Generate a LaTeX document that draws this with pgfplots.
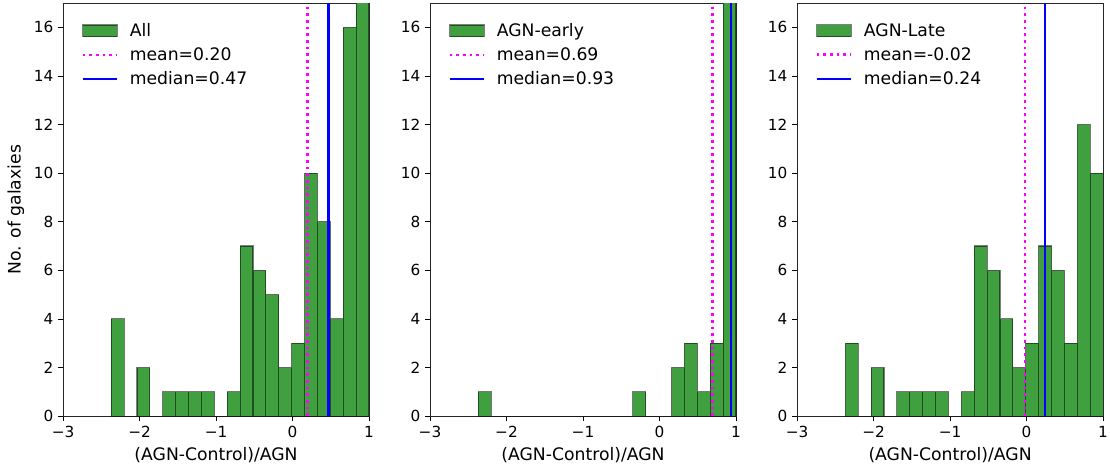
\documentclass[border=0pt]{standalone}
\usepackage{fontspec}
\setmainfont{DejaVu Sans}
\usepackage{pgfplots}
\pgfplotsset{compat=1.18}
\definecolor{barg}{HTML}{40A040}
\definecolor{mag}{HTML}{FF00FF}
\definecolor{blu}{HTML}{0000FF}

\pgfplotsset{
 panel/.style={
  scale only axis, width=220.3pt, height=297.4pt,
  xmin=-3, xmax=1, ymin=0, ymax=17,
  xtick={-3,-2,-1,0,1}, xticklabels={−3,−2,−1,0,1},
  ytick={0,2,...,16},
  tick align=outside, tick pos=left,
  major tick length=3.5pt,
  axis line style={line width=0.6pt, black!85},
  every tick/.style={black, line width=0.6pt},
  tick label style={font=\fontsize{11}{13}\selectfont},
  label style={font=\fontsize{12.4}{14}\selectfont},
  xlabel={(AGN-Control)/AGN},
  /pgf/number format/assume math mode=true,
  legend style={draw=none, fill=none, at={(0.045,0.965)}, anchor=north west,
     font=\fontsize{12.4}{14}\selectfont, row sep=2.5pt,
     /tikz/every odd column/.append style={column sep=6pt}},
  legend cell align=left,
  legend image code/.code={\draw[#1] (0pt,0pt) -- (25pt,0pt);},
 },
 bars/.style={ybar interval, fill=barg, draw=black, draw opacity=0.5, line width=0.8pt,
   legend image code/.code={\draw[fill=barg,draw=black,draw opacity=0.5,line width=0.8pt] (0pt,-4.3pt) rectangle (25pt,4.3pt);}},
 meanline/.style={mag, line width=2pt, dash pattern=on 2pt off 2.8pt},
 medline/.style={blu, line width=1.5pt},
}

\pgfplotstableread{
x y
-2.3700 4
-2.2015 0
-2.0330 2
-1.8645 0
-1.6960 1
-1.5275 1
-1.3590 1
-1.1905 1
-1.0220 0
-0.8535 1
-0.6850 7
-0.5165 6
-0.3480 5
-0.1795 2
-0.0110 3
0.1575 10
0.3260 8
0.4945 4
0.6630 16
0.8315 34
1.0000 0
}\allt

\pgfplotstableread{
x y
-2.3700 1
-2.2015 0
-2.0330 0
-1.8645 0
-1.6960 0
-1.5275 0
-1.3590 0
-1.1905 0
-1.0220 0
-0.8535 0
-0.6850 0
-0.5165 0
-0.3480 1
-0.1795 0
-0.0110 0
0.1575 2
0.3260 3
0.4945 1
0.6630 3
0.8315 24
1.0000 0
}\earlyt

\pgfplotstableread{
x y
-2.3700 3
-2.2015 0
-2.0330 2
-1.8645 0
-1.6960 1
-1.5275 1
-1.3590 1
-1.1905 1
-1.0220 0
-0.8535 1
-0.6850 7
-0.5165 6
-0.3480 4
-0.1795 2
-0.0110 3
0.1575 7
0.3260 6
0.4945 3
0.6630 12
0.8315 10
1.0000 0
}\latet

\begin{document}
\begin{tikzpicture}
\begin{axis}[panel, at={(0pt,0pt)}, ylabel={No. of galaxies}]
\addplot[bars] table[x=x,y=y] {\allt};
\addlegendentry{All}
\addplot[meanline] coordinates {(0.20,0) (0.20,17)};
\addlegendentry{mean=0.20}
\addplot[medline] coordinates {(0.47,0) (0.47,17)};
\addlegendentry{median=0.47}
\end{axis}
\begin{axis}[panel, at={(264.2pt,0pt)}]
\addplot[bars] table[x=x,y=y] {\earlyt};
\addlegendentry{AGN-early}
\addplot[meanline] coordinates {(0.69,0) (0.69,17)};
\addlegendentry{mean=0.69}
\addplot[medline] coordinates {(0.93,0) (0.93,17)};
\addlegendentry{median=0.93}
\end{axis}
\begin{axis}[panel, at={(528.5pt,0pt)}]
\addplot[bars] table[x=x,y=y] {\latet};
\addlegendentry{AGN-Late}
\addplot[meanline] coordinates {(-0.02,0) (-0.02,17)};
\addlegendentry{mean=-0.02}
\addplot[medline] coordinates {(0.24,0) (0.24,17)};
\addlegendentry{median=0.24}
\end{axis}
\pgfresetboundingbox
\path (-45.4pt,-38.9pt) rectangle (753.8pt,299.6pt);
\end{tikzpicture}
\end{document}
